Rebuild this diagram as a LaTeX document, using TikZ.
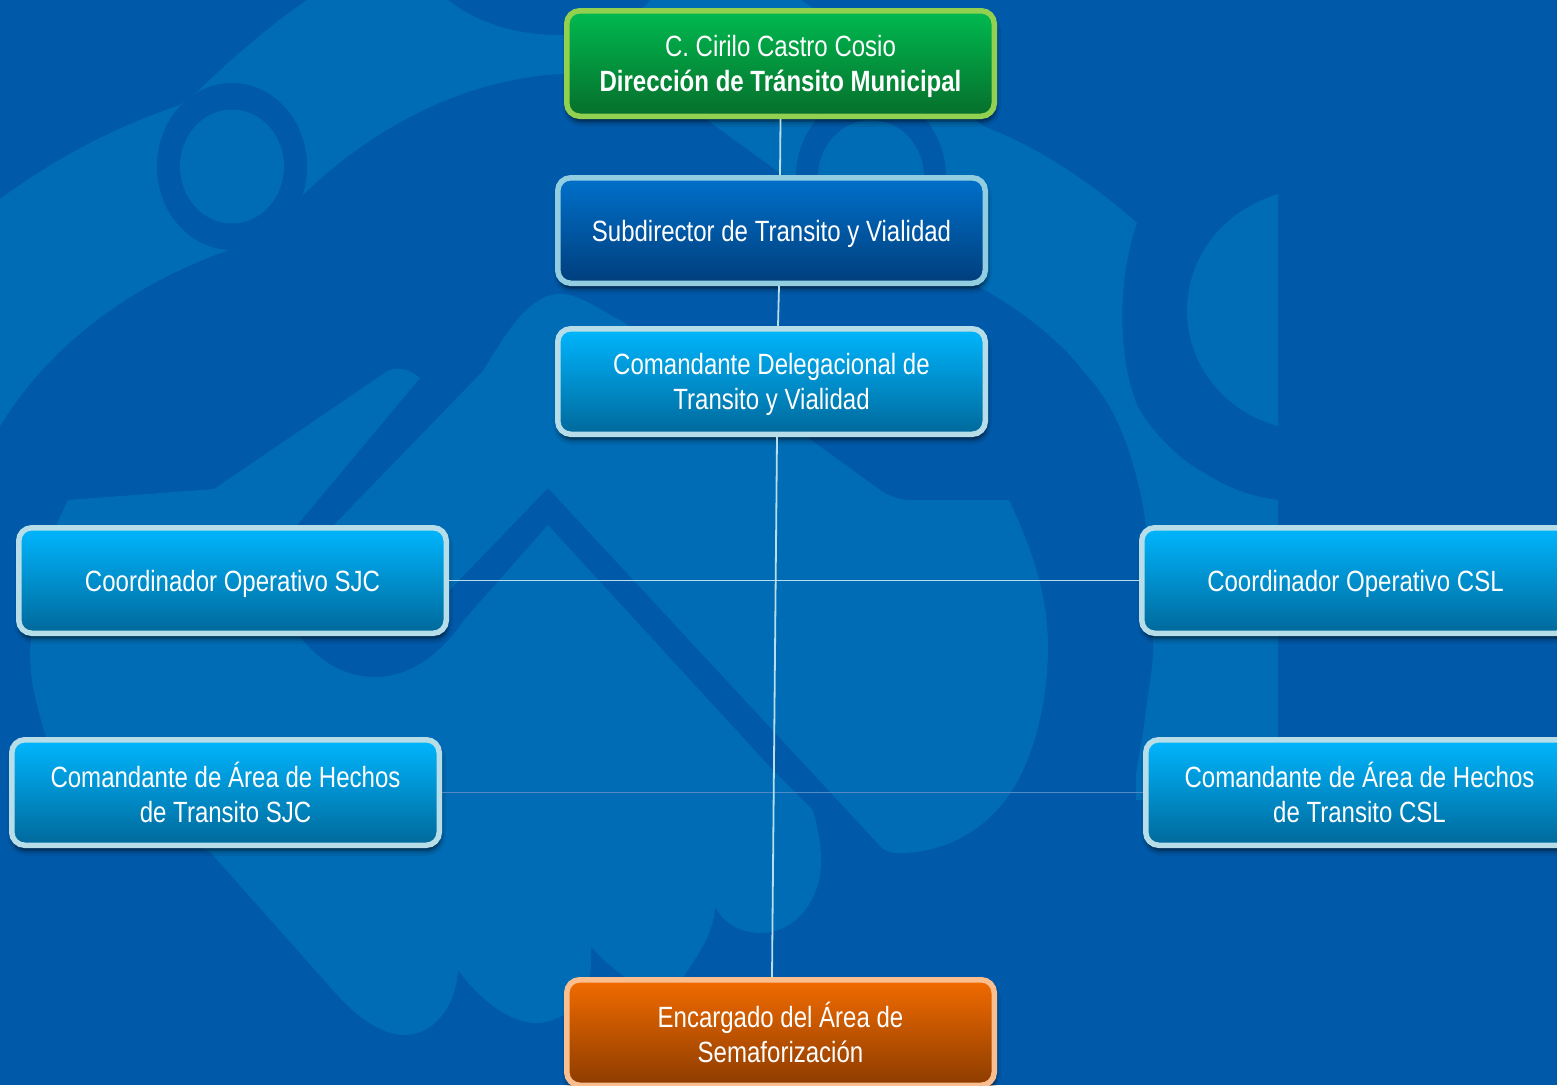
\documentclass[tikz,border=0pt]{standalone}
\usepackage{fontspec}
\setmainfont{Liberation Sans}[FakeStretch=0.82]
\usepackage{tikz}
\usetikzlibrary{positioning, shadows.blur}

\definecolor{bgdark}{HTML}{0059A9}
\definecolor{bglight}{HTML}{006CB5}

\begin{document}
\begin{tikzpicture} [x=1pt, y=-1pt,
            node distance = 151pt,
            on grid,
            puesto/.style = {draw, rectangle, rounded corners=13pt,
                line width=5.5pt, text=white, align=center, inner sep=0pt,
                minimum width=427.5pt, minimum height=105.5pt, text depth=0pt,
                font=\fontsize{29.3}{35}\selectfont,
                blur shadow={shadow xshift=1pt, shadow yshift=-5pt,
                    shadow blur radius=5pt, shadow opacity=70}},
            verde/.style = {puesto, draw={rgb,255:red,146;green,208;blue,80},
                top color={rgb,255:red,0;green,186;blue,80},
                middle color={rgb,255:red,0;green,160;blue,66},
                bottom color={rgb,255:red,6;green,110;blue,43}},
            azul/.style = {puesto, draw={rgb,255:red,146;green,205;blue,224},
                top color={rgb,255:red,0;green,112;blue,202},
                middle color={rgb,255:red,0;green,98;blue,180},
                bottom color={rgb,255:red,0;green,62;blue,124}},
            celeste/.style = {puesto, draw={rgb,255:red,183;green,222;blue,232},
                top color={rgb,255:red,0;green,182;blue,254},
                middle color={rgb,255:red,0;green,158;blue,222},
                bottom color={rgb,255:red,0;green,104;blue,154}},
            naranja/.style = {puesto, draw={rgb,255:red,251;green,191;blue,143},
                top color={rgb,255:red,242;green,107;blue,0},
                middle color={rgb,255:red,212;green,92;blue,0},
                bottom color={rgb,255:red,140;green,60;blue,0}},
            linea/.style = {draw={rgb,255:red,184;green,221;blue,235}, line width=1.8pt},
            lineatenue/.style = {draw={rgb,255:red,84;green,136;blue,198}, line width=1.8pt}]

            \useasboundingbox (0,0) rectangle (1557,1085);
            \clip (0,0) rectangle (1557,1085);

            % Background
            \fill [bgdark] (0,0) rectangle (1557,1085);

            % Band across the top
            \fill [bglight] (0,199) .. controls (60,155) and (120,125) .. (180,105)
                -- (198,91) .. controls (230,60) and (270,25) .. (307,0)
                -- (448,0) .. controls (480,25) and (520,35) .. (560,35)
                .. controls (590,35) and (630,25) .. (650,0)
                -- (801,0) -- (985,127)
                .. controls (1035,145) and (1095,185) .. (1137,223)
                .. controls (1120,270) and (1115,350) .. (1137,405)
                .. controls (1155,440) and (1195,470) .. (1205,473)
                .. controls (1230,490) and (1255,497) .. (1278,500)
                -- (1278,800) -- (1136,800) -- (1136,773) -- (1143,733)
                .. controls (1148,690) and (1155,660) .. (1153,637)
                .. controls (1153,590) and (1150,550) .. (1142,500)
                .. controls (1130,445) and (1115,405) .. (1084,372)
                .. controls (1060,340) and (1020,310) .. (985,290)
                -- (780,173) -- (707,120)
                .. controls (680,95) and (620,74) .. (560,74)
                .. controls (460,80) and (370,130) .. (304,194)
                -- (229,250) .. controls (130,285) and (50,345) .. (0,426) -- cycle;

            % Eyes
            \fill [bgdark] (232,166.5) ellipse [x radius=75, y radius=83.5];
            \fill [bglight] (232,166.5) ellipse [x radius=52, y radius=57];
            \fill [bgdark] (871,177) ellipse [x radius=75, y radius=83.5];
            \fill [bglight] (871,177) ellipse [x radius=53, y radius=57];

            % Half disc on the right
            \fill [bglight] (1278,194) .. controls (1225,210) and (1187,255) .. (1187,311)
                .. controls (1187,365) and (1225,412) .. (1278,426) -- cycle;

            % Roof and right lobe
            \fill [bglight] (329,530) -- (482,372) .. controls (500,345) and (525,294) .. (560,294)
                .. controls (580,294) and (600,310) .. (620,320) -- (807,437)
                -- (880,490) .. controls (895,500) and (905,500) .. (917,500) -- (1009,500)
                .. controls (1035,555) and (1048,600) .. (1048,647)
                .. controls (1048,710) and (1030,765) .. (1009,795)
                .. controls (985,830) and (945,853) .. (899,853)
                .. controls (890,853) and (885,851) .. (881,847)
                -- (548,488) -- (440,600) -- cycle;

            % Wedge and lower body
            \fill [bglight] (68,500) -- (214,489) -- (386,372)
                .. controls (396,366) and (408,368) .. (420,378)
                -- (293,530) -- (300,637) .. controls (320,662) and (345,677) .. (375,677)
                .. controls (410,677) and (440,655) .. (464,620)
                -- (548,525) -- (770,767) -- (812,809)
                .. controls (818,825) and (821,845) .. (821,862)
                .. controls (821,900) and (795,933) .. (761,933)
                .. controls (742,933) and (725,925) .. (715,907)
                .. controls (714,935) and (695,960) .. (674,990)
                -- (640,990) .. controls (625,975) and (605,965) .. (591,946)
                .. controls (592,965) and (590,985) .. (583,1003)
                -- (560,1017) .. controls (550,1022) and (542,1023) .. (536,1023)
                .. controls (510,1023) and (480,1000) .. (458,970)
                .. controls (456,1005) and (435,1035) .. (404,1035)
                .. controls (385,1035) and (360,1020) .. (339,997)
                -- (211,853) -- (100,790) -- (46,737)
                .. controls (35,700) and (30,680) .. (30,650) -- (40,560) -- cycle;

            % Director
            \node (director) [verde] at (780.5,63.5)
                {C. Cirilo Castro Cosio\\ \textbf{Dirección de Tránsito Municipal}};

            % Subdirector
            \node (sub) [azul] at (771.5,230.5) {Subdirector de Transito y Vialidad};

            % Comandante delegacional
            \node (delegacional) [celeste, below = of sub]
                {Comandante Delegacional de\\ Transito y Vialidad};

            % Coordinadores
            \node (coordsjc) [celeste] at (232.5,580.5) {Coordinador Operativo SJC};
            \node (coordcsl) [celeste] at (1355.5,580.5) {Coordinador Operativo CSL};

            % Comandantes de area
            \node (hechossjc) [celeste] at (225.5,792.5)
                {Comandante de Área de Hechos\\ de Transito SJC};
            \node (hechoscsl) [celeste] at (1359.5,792.5)
                {Comandante de Área de Hechos\\ de Transito CSL};

            % Semaforizacion
            \node (semaforos) [naranja] at (780.5,1032.5)
                {Encargado del Área de\\ Semaforización};

            % Lines
            \path [lineatenue]
                (hechossjc) edge (hechoscsl);
            \path [linea]
                (coordsjc) edge (coordcsl)
                (director.south) edge ([xshift=8.5pt]sub.north)
                ([xshift=7.5pt]sub.south) edge ([xshift=6.5pt]delegacional.north)
                ([xshift=5.5pt]delegacional.south) edge ([xshift=-8.5pt]semaforos.north);
\end{tikzpicture}
\end{document}
